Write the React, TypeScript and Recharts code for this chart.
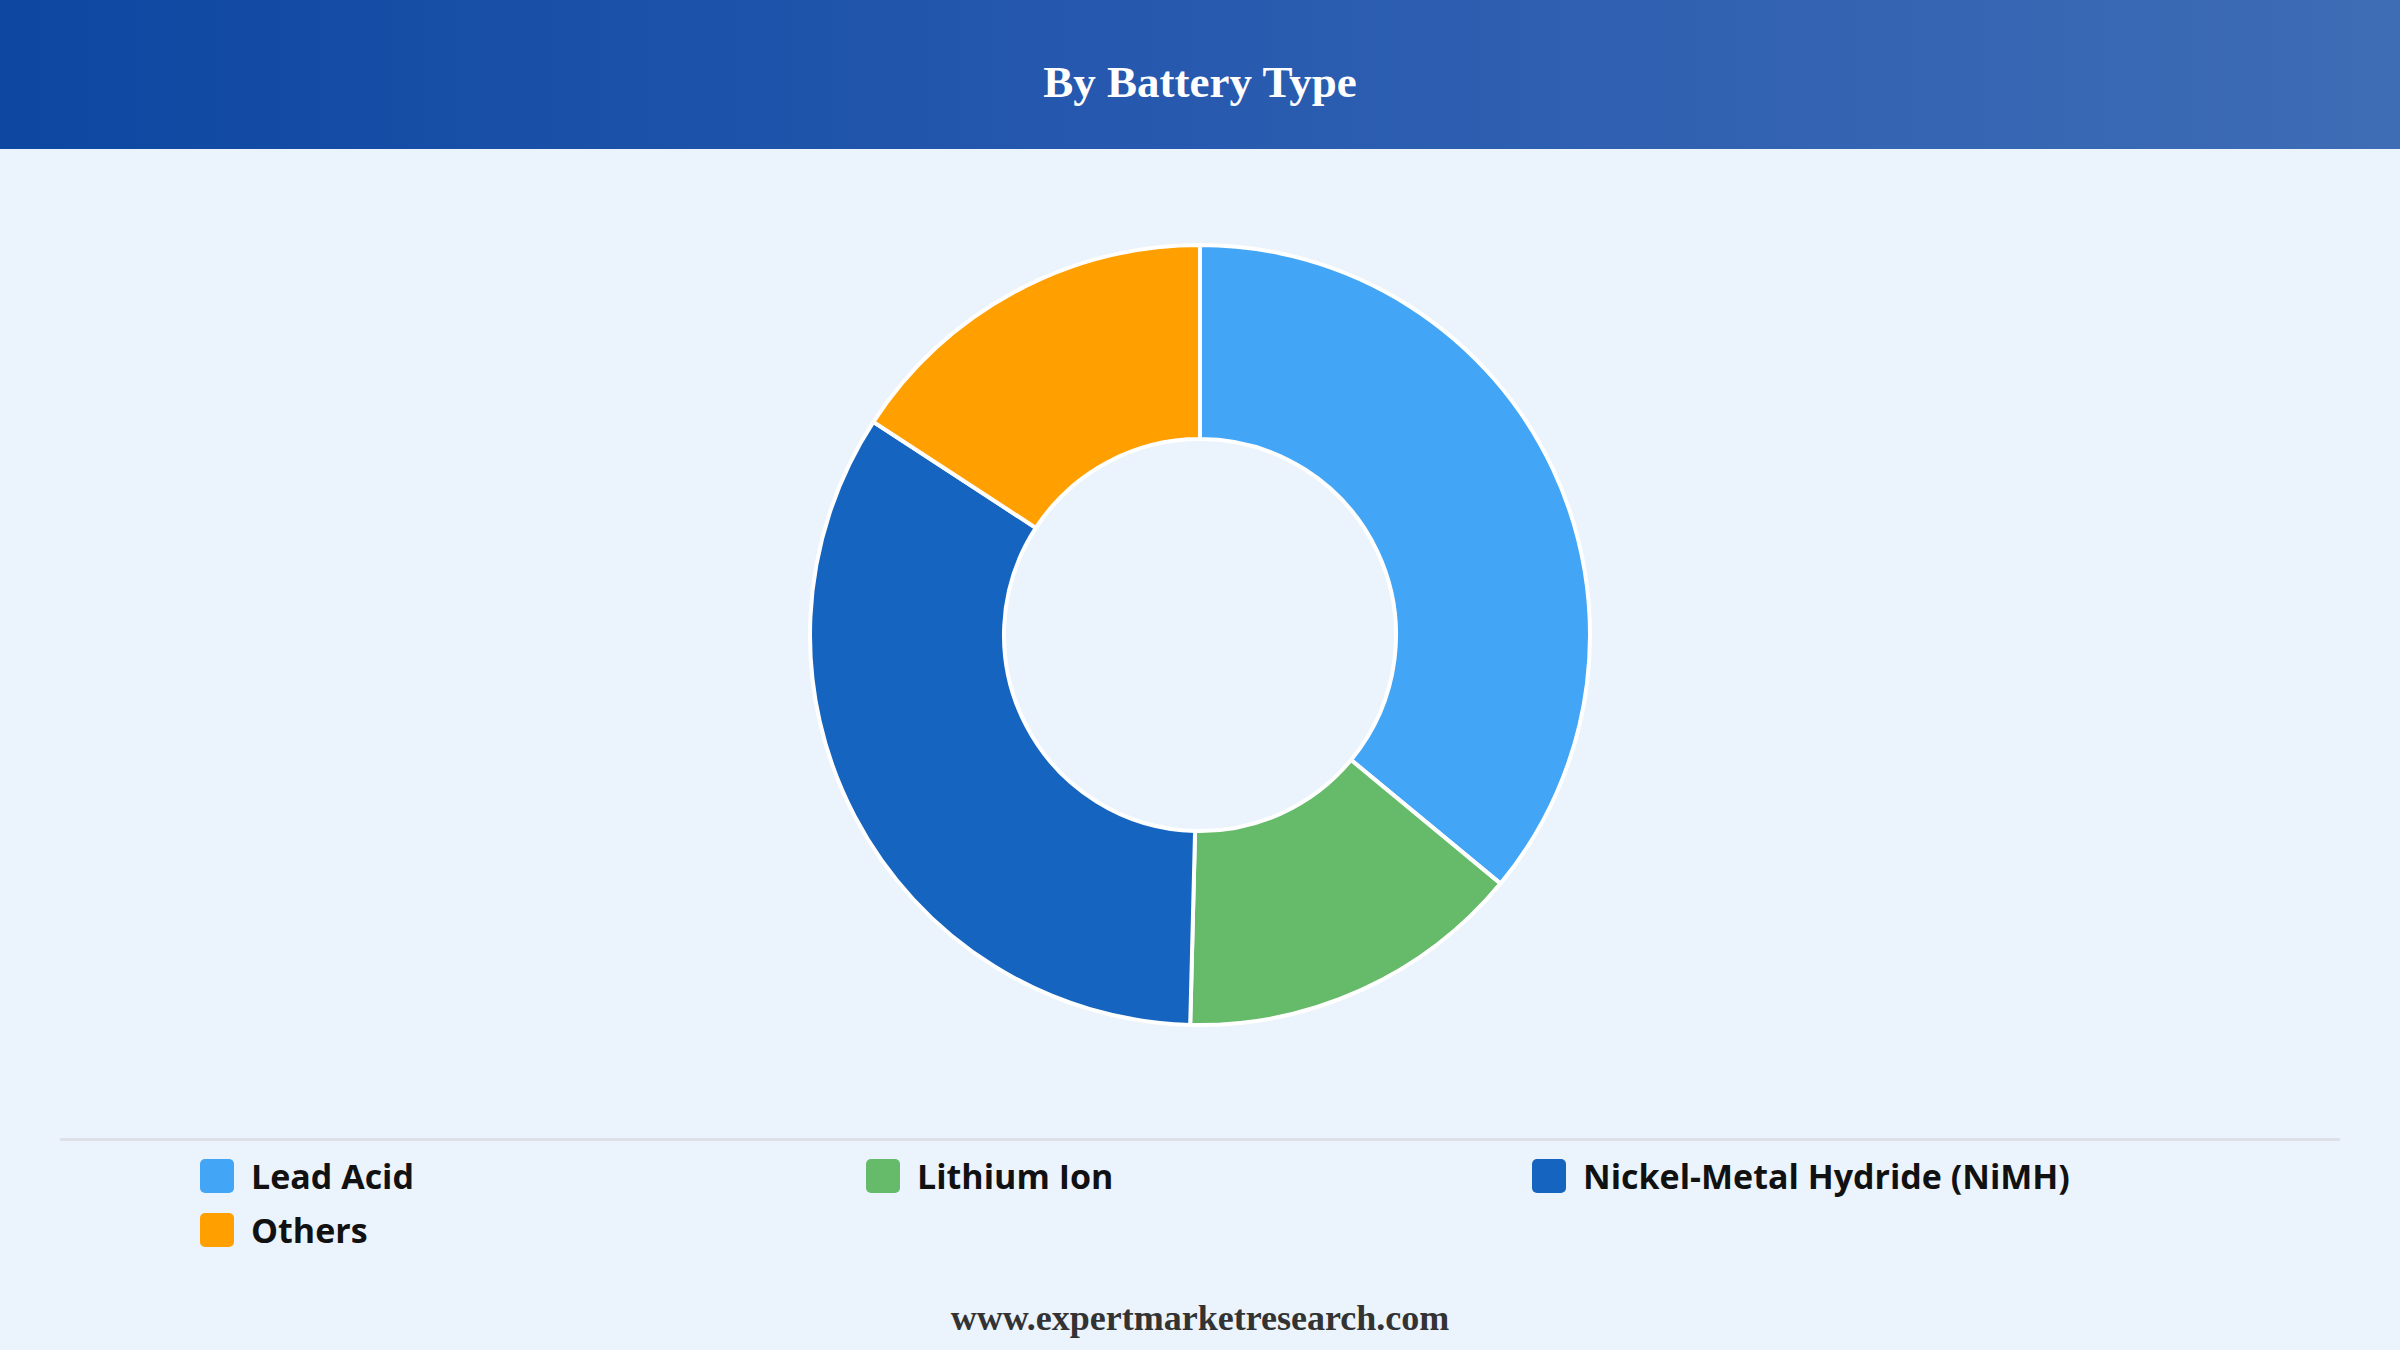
import { PieChart, Pie, Cell, Legend } from 'recharts'

const categories = ['Lead Acid', 'Lithium Ion', 'Nickel-Metal Hydride (NiMH)', 'Others']
const shares = [36.0, 14.4, 33.8, 15.8]
const colors = ['#42A5F5', '#66BB6A', '#1565C0', '#FFA000']

const data = categories.map((name, i) => ({ name, value: shares[i] }))

function LegendGrid() {
  return (
    <div style={{ borderTop: '3px solid #dde1e6', width: 2280, margin: '0 auto', paddingTop: 17 }}>
      <div
        style={{
          display: 'grid',
          gridTemplateColumns: '666px 666px 666px',
          rowGap: 18,
          paddingLeft: 140,
        }}
      >
        {categories.map((name, i) => (
          <div key={name} style={{ display: 'flex', alignItems: 'center', height: 36 }}>
            <span
              style={{
                width: 34,
                height: 34,
                borderRadius: 5,
                background: colors[i],
                marginRight: 17,
                flexShrink: 0,
              }}
            />
            <span style={{ fontFamily: '"Open Sans", "Noto Sans", sans-serif', fontWeight: 700, fontSize: 34, color: '#111' }}>
              {name}
            </span>
          </div>
        ))}
      </div>
    </div>
  )
}

export default function App() {
  return (
    <div style={{ position: 'relative', width: 2400, height: 1350, background: '#EBF3FC', overflow: 'hidden' }}>
      <style>{'body{margin:0}'}</style>
      <div
        style={{
          position: 'absolute',
          left: 0,
          top: 0,
          width: 2400,
          height: 149,
          background: 'linear-gradient(90deg, #0D47A1 0%, #2558AE 45%, #3E6CB5 100%)',
          display: 'flex',
          alignItems: 'center',
          justifyContent: 'center',
        }}
      >
        <span
          style={{
            fontFamily: '"Liberation Serif", "Times New Roman", serif',
            fontWeight: 700,
            fontSize: 45,
            color: '#fff',
            marginTop: 14,
          }}
        >
          By Battery Type
        </span>
      </div>
      <div style={{ position: 'absolute', left: 0, top: 149 }}>
        <PieChart width={2400} height={1100} margin={{ top: 0, right: 0, bottom: 0, left: 0 }}>
          <Pie
            data={data}
            dataKey="value"
            nameKey="name"
            cx={1200}
            cy={486}
            innerRadius={196}
            outerRadius={390}
            startAngle={90}
            endAngle={-270}
            stroke="#ffffff"
            strokeWidth={4}
            isAnimationActive={false}
          >
            {data.map((d, i) => (
              <Cell key={d.name} fill={colors[i]} />
            ))}
          </Pie>
          <Legend
            content={() => <LegendGrid />}
            verticalAlign="bottom"
            wrapperStyle={{ top: 989, bottom: 'auto', left: 0, width: 2400 }}
          />
        </PieChart>
      </div>
      <div
        style={{
          position: 'absolute',
          left: 0,
          width: 2400,
          top: 1297,
          textAlign: 'center',
          fontFamily: '"Liberation Serif", "Times New Roman", serif',
          fontWeight: 700,
          fontSize: 36,
          color: '#333',
        }}
      >
        www.expertmarketresearch.com
      </div>
    </div>
  )
}
